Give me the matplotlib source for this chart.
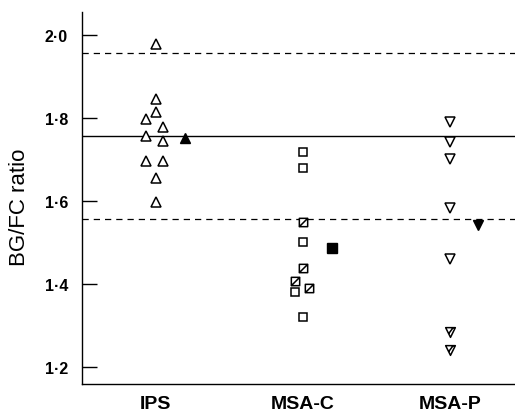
import matplotlib
matplotlib.use('Agg')
import matplotlib.pyplot as plt
from matplotlib.path import Path

plt.rcParams['font.family'] = ['Liberation Sans', 'DejaVu Sans']

# groups
groups = ['IPS', 'MSA-C', 'MSA-P']

# IPS: open triangles, with small sideways offsets as in the figure
ips_vals = [1.978, 1.846, 1.813, 1.796, 1.778, 1.756, 1.745, 1.695, 1.695, 1.656, 1.596]
ips_offs = [0, 0, 0, -0.068, 0.05, -0.068, 0.05, -0.068, 0.05, 0, 0]
ips_mean = 1.752

# MSA-C: open squares and hatched squares
msac_open = [1.717, 1.678, 1.500, 1.380, 1.320]
msac_open_offs = [0, 0, 0, -0.05, 0]
msac_hatch = [1.548, 1.439, 1.408, 1.389]
msac_hatch_offs = [0, 0, -0.05, 0.04]
msac_mean = 1.487

# MSA-P: open and hatched down triangles
msap_open = [1.789, 1.741, 1.701, 1.583, 1.460]
msap_hatch = [1.284, 1.242]
msap_mean = 1.541

# IPS reference mean and +/- 2 SD
ref_mean = 1.757
ref_lo = 1.557
ref_hi = 1.957

yticks = [1.2, 1.4, 1.6, 1.8, 2.0]

mean_off = 0.2

# custom markers: square / triangle with a diagonal stroke
M, L, C = Path.MOVETO, Path.LINETO, Path.CLOSEPOLY
sq_hatch = Path([(-1, -1), (1, -1), (1, 1), (-1, 1), (-1, -1), (-1, -1), (1, 1)],
                [M, L, L, L, C, M, L])
tri_hatch = Path([(-1, 1), (1, 1), (0, -1), (-1, 1), (-0.35, -0.2), (0.55, 1)],
                 [M, L, L, C, M, L])

fig = plt.figure(figsize=(5.15, 4.14), dpi=100)
ax = fig.add_axes([0.159, 0.070, 0.841, 0.899])

# reference lines
ax.axhline(ref_mean, color='black', lw=1.0)
ax.axhline(ref_hi, color='black', lw=0.9, ls=(0, (5, 4)))
ax.axhline(ref_lo, color='black', lw=0.9, ls=(0, (5, 4)))

open_kw = dict(ls='none', mfc='white', mec='black', mew=1.1)

ax.plot([0 + o for o in ips_offs], ips_vals, marker='^', ms=7, **open_kw)
ax.plot([0 + mean_off], [ips_mean], marker='^', ms=7, ls='none', color='black')

ax.plot([1 + o for o in msac_open_offs], msac_open, marker='s', ms=6, **open_kw)
ax.plot([1 + o for o in msac_hatch_offs], msac_hatch, marker=sq_hatch, ms=6, **open_kw)
ax.plot([1 + mean_off], [msac_mean], marker='s', ms=6.5, ls='none', color='black')

ax.plot([2] * len(msap_open), msap_open, marker='v', ms=7, **open_kw)
ax.plot([2] * len(msap_hatch), msap_hatch, marker=tri_hatch, ms=7, **open_kw)
ax.plot([2 + mean_off - 0.01], [msap_mean], marker='v', ms=7, ls='none', color='black')

ax.set_xlim(-0.5, 2.44)
ax.set_ylim(1.159, 2.055)

ax.set_yticks(yticks)
ax.set_yticklabels([f'{v:.1f}'.replace('.', '\u00b7') for v in yticks],
                   fontsize=11.5, fontweight='bold')
ax.tick_params(axis='y', direction='in', length=11, width=1, pad=10)

ax.set_xticks(range(len(groups)))
ax.set_xticklabels(groups, fontsize=14, fontweight='bold')
ax.tick_params(axis='x', length=0, pad=8)

ax.set_ylabel('BG/FC ratio', fontsize=16)
ax.yaxis.set_label_coords(-0.12, 0.478)

for s in ['top', 'right']:
    ax.spines[s].set_visible(False)
for s in ['left', 'bottom']:
    ax.spines[s].set_linewidth(1.0)

fig.savefig('out.png', dpi=100)
